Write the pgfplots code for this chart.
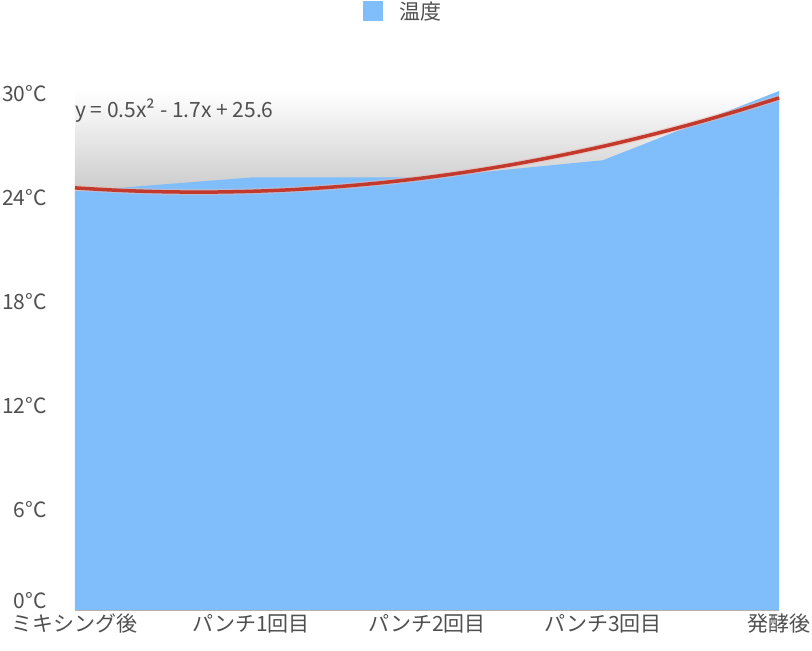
\documentclass[border=0pt]{standalone}
\usepackage{fontspec}
\setmainfont{Noto Sans CJK JP}
\usepackage{pgfplots}
\pgfplotsset{compat=1.18}
\definecolor{areablue}{RGB}{127,189,251}
\definecolor{trendred}{RGB}{195,57,43}
\definecolor{labelgray}{RGB}{80,80,80}
\newcommand{\lbl}{\fontsize{21}{24}\selectfont}
\begin{document}
\begin{tikzpicture}
\path[use as bounding box] (-75pt,-41pt) rectangle (737pt,610pt);
\begin{axis}[
    scale only axis,
    width=704pt, height=519pt,
    xmin=0, xmax=4, ymin=0, ymax=30,
    axis x line*=bottom, axis y line*=left,
    x axis line style={draw=black!30, -},
    y axis line style={draw=none, -},
    major tick length=0pt,
    xtick={0,1,2,3,4},
    xticklabels={ミキシング後, パンチ1回目, パンチ2回目, パンチ3回目, 発酵後},
    ytick={0,6,12,18,24,30},
    yticklabel={\ifnum\ticknum=0\relax\raisebox{4pt}[0pt][0pt]{0°C}\else\pgfmathprintnumber{\tick}°C\fi},
    /pgf/number format/assume math mode=true,
    tick label style={font=\lbl, text=labelgray},
    xticklabel style={anchor=north, inner sep=0pt, yshift=-4pt},
    yticklabel style={anchor=east, inner sep=0pt, xshift=-28pt, yshift=-3pt},
    extra y ticks={30}, extra y tick labels={},
    extra y tick style={grid=major, major grid style={densely dotted, black!30, line width=0.6pt}},
    legend style={at={(0.4665,1.154)}, anchor=center, draw=none, fill=none,
        font=\lbl, text=labelgray, inner sep=0pt,
        /tikz/every odd column/.style={column sep=6pt}},
    legend image code/.code={\fill[areablue] (0pt,-10pt) rectangle (20pt,10pt);
        \path (28pt,0pt);},
    clip=false,
]
% grey gradient behind the area
\addplot[draw=none, top color=white, bottom color=black!21, forget plot]
    coordinates {(0,24) (4,24) (4,30) (0,30)} -- cycle;
% temperature area
\addplot[fill=areablue, draw=none] coordinates {
    (0,24.2) (1,25.0) (2,25.0) (3,26.0) (4,30.0)
} \closedcycle;
\addlegendentry{温度}
% trend line y = 0.5x^2 - 1.7x + 25.6 (x = 1..5)
\addplot[trendred!35, line width=6pt, opacity=0.5, forget plot, smooth] coordinates {
    (0,24.4) (0.25,24.256) (0.5,24.175) (0.75,24.156) (1,24.2) (1.25,24.306)
    (1.5,24.475) (1.75,24.706) (2,25.0) (2.25,25.356) (2.5,25.775) (2.75,26.256)
    (3,26.8) (3.25,27.406) (3.5,28.075) (3.75,28.806) (4,29.6)
};
\addplot[trendred, line width=3.5pt, forget plot, smooth] coordinates {
    (0,24.4) (0.25,24.256) (0.5,24.175) (0.75,24.156) (1,24.2) (1.25,24.306)
    (1.5,24.475) (1.75,24.706) (2,25.0) (2.25,25.356) (2.5,25.775) (2.75,26.256)
    (3,26.8) (3.25,27.406) (3.5,28.075) (3.75,28.806) (4,29.6)
};
\node[anchor=north west, inner sep=0pt, font=\lbl, text=labelgray]
    at (rel axis cs:0,1) [yshift=-8pt] {y = 0.5x² - 1.7x + 25.6};
\end{axis}
\end{tikzpicture}
\end{document}
